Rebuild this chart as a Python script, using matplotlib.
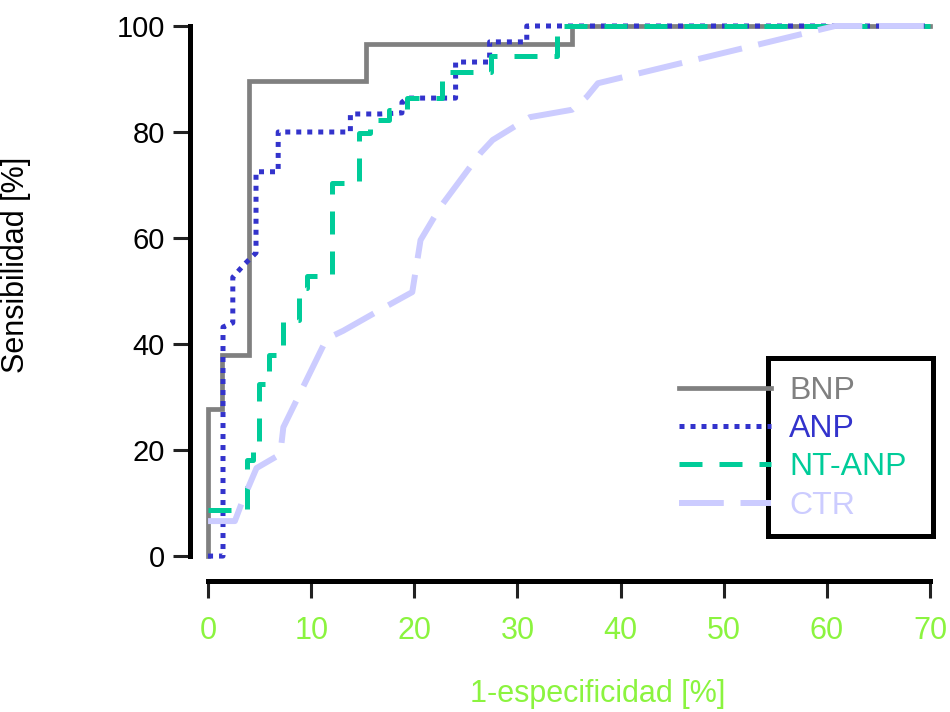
import matplotlib
matplotlib.use("Agg")
import matplotlib.pyplot as plt
from matplotlib.patches import Rectangle

plt.rcParams['font.family'] = ['Liberation Sans', 'DejaVu Sans']

# curvas ROC (1-especificidad %, sensibilidad %)
bnp_x = [0, 0, 1.4, 1.4, 4.0, 4.0, 15.3, 15.3, 35.3, 35.3, 70]
bnp_y = [0, 27.7, 27.7, 37.9, 37.9, 89.6, 89.6, 96.6, 96.6, 100, 100]

anp_x = [0, 1.45, 1.45, 2.4, 2.4, 3.5, 4.65, 4.65, 6.8, 6.8, 13.8, 13.8, 16.7,
         18.8, 18.8, 19.3, 24.0, 24.0, 27.3, 27.3, 30.9, 30.9, 70]
anp_y = [0, 0, 43.2, 44.0, 52.6, 55.0, 57.2, 72.5, 72.5, 80, 80, 83.4, 83.4,
         83.6, 85.6, 86.4, 86.4, 93.2, 93.2, 97, 97, 100, 100]

ntanp_x = [0, 3.8, 3.8, 4.4, 4.4, 4.9, 4.9, 5.9, 5.9, 7.3, 7.3, 8.8, 8.8, 9.6, 9.6,
           12.0, 12.0, 14.6, 14.6, 15.7, 15.7, 17.5, 17.5, 19.3, 19.3, 22.7, 22.7,
           27.4, 27.4, 33.8, 33.8, 70]
ntanp_y = [8.7, 8.7, 18.1, 18.1, 21, 21, 32.5, 32.5, 37.9, 37.9, 44.5, 44.5, 50.5,
           50.5, 52.8, 52.8, 70.4, 70.4, 79.8, 79.8, 82.3, 82.3, 84.2, 84.2, 86.4,
           86.4, 91.3, 91.3, 94.3, 94.3, 100, 100]

ctr_x = [0, 2.6, 3.3, 4.7, 7.0, 7.3, 11.5, 13.1, 17.0, 19.8, 20.6, 22.5, 26.4,
         27.6, 31.2, 35.3, 36.7, 37.8, 60.8, 70]
ctr_y = [6.6, 6.6, 10.2, 16.6, 19.2, 24.3, 41.0, 42.5, 46.8, 49.8, 59.6, 65.8, 76.0,
         78.5, 82.8, 84.2, 86.6, 89.2, 100, 100]

labels = ['BNP', 'ANP', 'NT-ANP', 'CTR']
colors = ['#808080', '#3333cc', '#00cc99', '#ccccff']
x_ticks = [0, 10, 20, 30, 40, 50, 60, 70]
y_ticks = [0, 20, 40, 60, 80, 100]

fig = plt.figure(figsize=(9.5, 7.12), dpi=100)
ax = fig.add_axes([0.219, 0.219, 0.760, 0.7445])

l1, = ax.plot(bnp_x, bnp_y, color=colors[0], lw=3.4, solid_joinstyle='miter',
              clip_on=False, zorder=2)
l2, = ax.plot(anp_x, anp_y, color=colors[1], lw=3.6, linestyle=(0, (1, 1.2)),
              clip_on=False, zorder=3)
l3, = ax.plot(ntanp_x, ntanp_y, color=colors[2], lw=3.6, linestyle=(0, (4.6, 3.4)),
              clip_on=False, zorder=4)
l4, = ax.plot(ctr_x, ctr_y, color=colors[3], lw=4.3, linestyle=(0, (7.5, 2.8)),
              clip_on=False, zorder=5)

ax.set_xlim(0, 70)
ax.set_ylim(0, 100)
ax.set_xticks(x_ticks)
ax.set_yticks(y_ticks)

for s in ['top', 'right']:
    ax.spines[s].set_visible(False)
ax.spines['left'].set_position(('outward', 13))
ax.spines['bottom'].set_position(('outward', 18))
ax.spines['left'].set_bounds(0, 100)
ax.spines['bottom'].set_bounds(0, 70)
ax.spines['left'].set_linewidth(3.6)
ax.spines['bottom'].set_linewidth(3.6)

ax.tick_params(axis='y', direction='out', length=12, width=2.2, color='#222222',
               labelsize=21, pad=6)
ax.tick_params(axis='x', direction='out', length=12, width=2.2, color='#222222',
               labelsize=22, pad=13, labelcolor='#8bf43f')

ax.set_ylabel('Sensibilidad [%]', fontsize=22)
ax.yaxis.set_label_coords(-0.245, 0.55)
ax.set_xlabel('1-especificidad [%]', fontsize=22, color='#8bf43f')
ax.xaxis.set_label_coords(0.54, -0.232)

# caja de la leyenda (las muestras de linea sobresalen por la izquierda)
box = Rectangle((0.775, 0.0387), 0.2285, 0.3358, transform=ax.transAxes,
                fill=False, edgecolor='black', lw=3.6, clip_on=False, zorder=6)
ax.add_patch(box)

leg = ax.legend([l1, l2, l3, l4], labels, frameon=False, fontsize=23,
                loc='upper left', bbox_to_anchor=(0.652, 0.340), borderpad=0,
                borderaxespad=0, handlelength=2.9, handletextpad=0.56,
                labelspacing=0.26, labelcolor='linecolor')
leg.set_zorder(7)

fig.savefig('out.png', dpi=100)
